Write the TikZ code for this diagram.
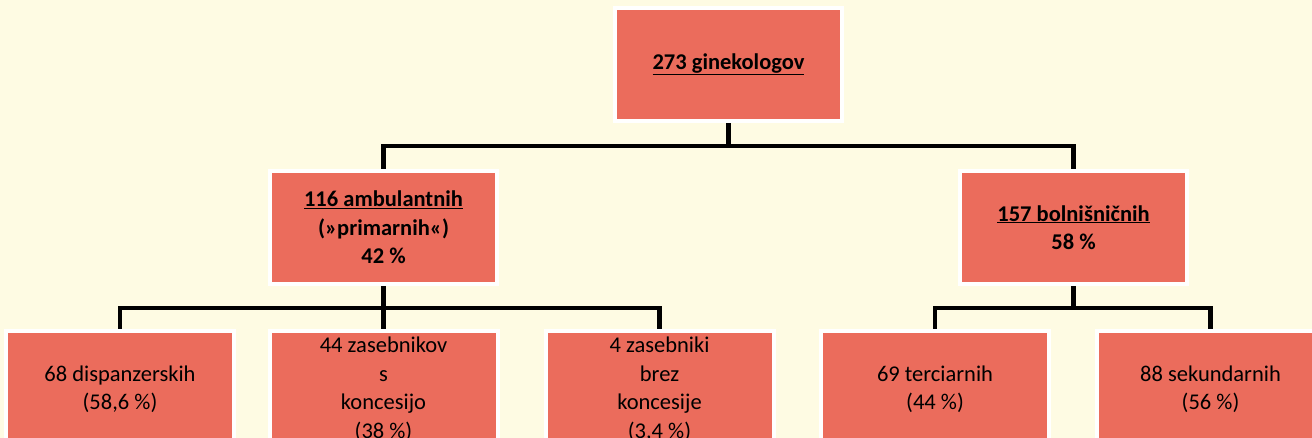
\documentclass[tikz,border=0pt]{standalone}
\usepackage{fontspec}
\setmainfont{Carlito}
\definecolor{bgcream}{RGB}{254,251,227}
\definecolor{boxred}{RGB}{235,108,92}
\pgfdeclarelayer{bg}
\pgfsetlayers{bg,main}
\newcommand\myul[1]{\underline{#1}}
\begin{document}
\begin{tikzpicture}[x=1pt,y=1pt,
  box/.style={rectangle, fill=boxred, draw=white, line width=4pt, outer sep=0pt,
    inner sep=0pt, align=center, text=black,
    font=\fontsize{22.5}{28.5}\selectfont},
  topbox/.style={box, minimum width=227, minimum height=113, font=\fontsize{22.5}{28.5}\selectfont\bfseries},
  leafbox/.style={box, minimum width=228, minimum height=117},
  conn/.style={draw=black, line width=4.5pt, line join=miter}]
\clip (0,0) rectangle (1312,438);
\begin{pgfonlayer}{bg}
\fill[bgcream] (0,0) rectangle (1312,438);
\end{pgfonlayer}
\node[topbox] (top) at (728.5,373.5) {\myul{273 ginekologov}};
\node[topbox] (amb) at (383.5,210.5) {\myul{116 ambulantnih}\\(»primarnih«)\\42 \%};
\node[topbox] (bol) at (1073.5,210.5) {\myul{157 bolnišničnih}\\58 \%};
\node[leafbox] (dis) at (120,48.5) {68 dispanzerskih\\(58,6 \%)};
\node[leafbox] (zas) at (383.5,48.5) {44 zasebnikov\\s\\koncesijo\\(38 \%)};
\node[leafbox] (brez) at (659.5,48.5) {4 zasebniki\\brez\\koncesije\\(3,4 \%)};
\node[leafbox] (ter) at (935,48.5) {69 terciarnih\\(44 \%)};
\node[leafbox] (sek) at (1210.5,48.5) {88 sekundarnih\\(56 \%)};
\begin{pgfonlayer}{bg}
\coordinate (j1) at (top.south |- 0,292);
\coordinate (j2) at (amb.south |- 0,130);
\coordinate (j3) at (bol.south |- 0,130);
\draw[conn] (top.south) -- (j1);
\draw[conn] (amb.north) |- (j1) -| (bol.north);
\draw[conn] (amb.south) -- (zas.north);
\draw[conn] (dis.north) |- (j2) -| (brez.north);
\draw[conn] (bol.south) -- (j3);
\draw[conn] (ter.north) |- (j3) -| (sek.north);
\end{pgfonlayer}
\end{tikzpicture}
\end{document}
